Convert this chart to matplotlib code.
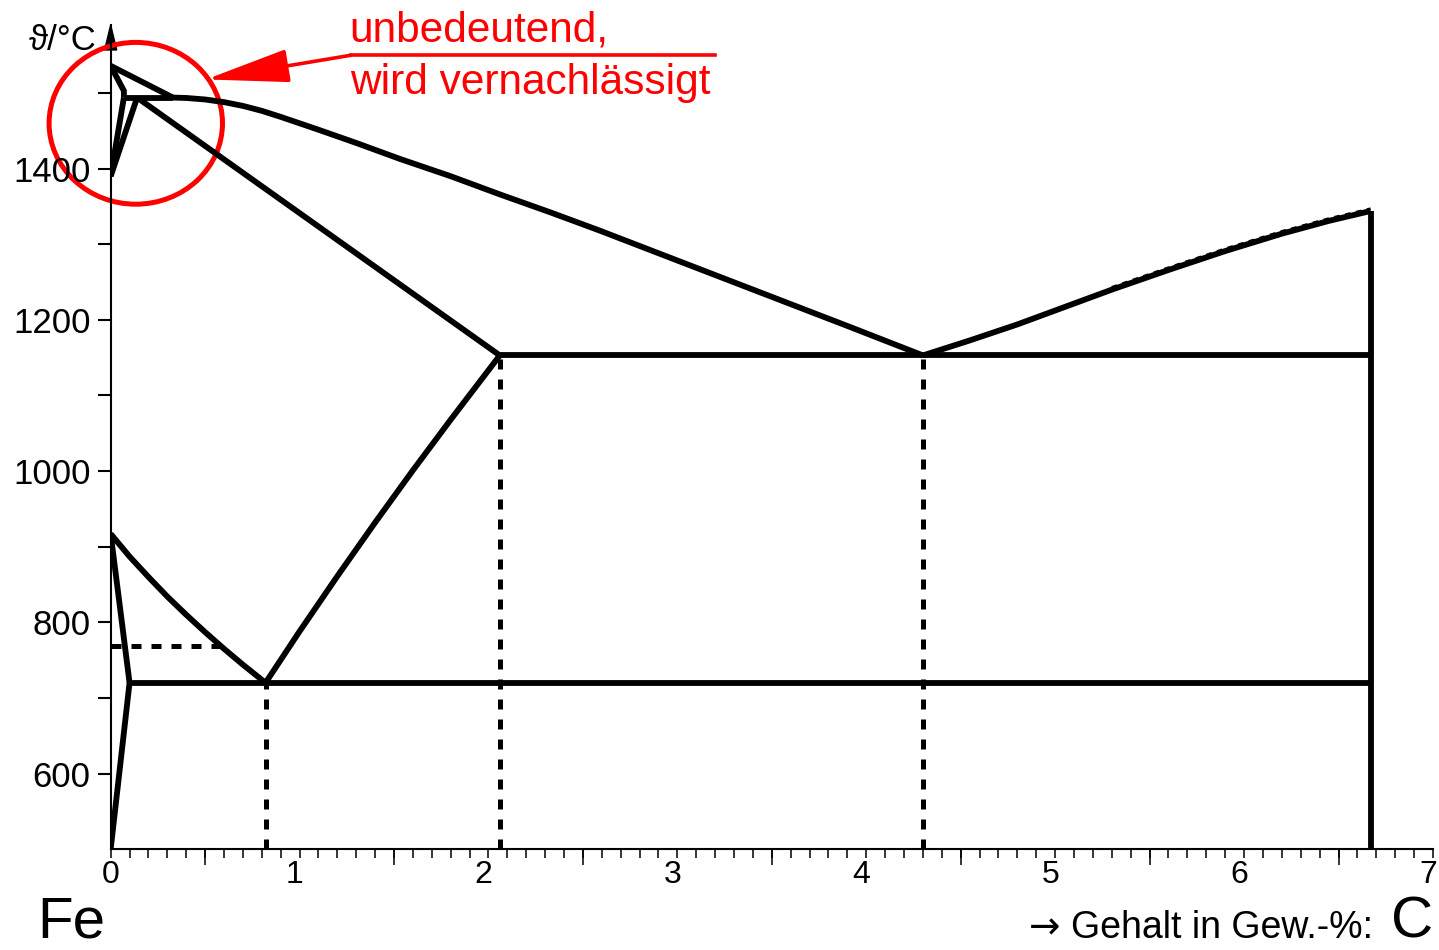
import matplotlib
matplotlib.use("Agg")
import matplotlib.pyplot as plt
from matplotlib.patches import Ellipse, Polygon
from matplotlib.transforms import ScaledTranslation
import numpy as np

plt.rcParams['font.family'] = ['Liberation Sans', 'DejaVu Sans']

# Fe-C diagram, x in wt-% C, T in degC
ab_x, ab_T = [0.0, 0.33], [1536, 1494]                  # liquidus A-B
ah_x, ah_T = [0.0, 0.07, 0.07], [1536, 1503, 1494]      # delta solidus A-H
hb_x, hb_T = [0.07, 0.33], [1494, 1494]                 # peritectic H-B
hn_x, hn_T = [0.07, 0.0], [1494, 1390]
jn_x, jn_T = [0.14, 0.0], [1494, 1390]
je_x, je_T = [0.14, 2.06], [1494, 1153]                 # solidus J-E
bc_x = [0.33, 0.4, 0.5, 0.6, 0.7, 0.8, 0.9, 1.0, 1.1, 1.3, 1.53, 1.80, 2.06,
        2.33, 2.59, 2.86, 3.38, 3.91, 4.30]
bc_T = [1494, 1493.5, 1491.5, 1488, 1483, 1476.5, 1468.5, 1460, 1451.5, 1434, 1413,
        1390, 1366, 1342, 1318, 1292, 1242, 1191, 1153]
cd_x = [4.30, 4.55, 4.8, 5.05, 5.3, 5.6, 5.9, 6.2, 6.45, 6.67]
cd_T = [1153, 1173, 1194, 1217, 1240, 1266, 1291, 1314, 1331, 1344]
ecf_x, ecf_T = [2.06, 6.67], [1153, 1153]               # eutectic
psk_x, psk_T = [0.10, 6.67], [720, 720]                 # eutectoid
gs_x = [0.0, 0.1, 0.2, 0.3, 0.4, 0.5, 0.6, 0.7, 0.82]
gs_T = [917, 887, 860, 834, 810, 787, 765, 744, 720]
es_x = [0.82, 1.0, 1.2, 1.4, 1.6, 1.8, 2.06]
es_T = [720, 788, 861, 932, 1001, 1068, 1153]
gp_x, gp_T = [0.0, 0.10], [917, 720]
pq_x, pq_T = [0.10, 0.0], [720, 500]
fe3c_x, fe3c_T = [6.67, 6.67], [500, 1344]
curie_x, curie_T = [0.0, 0.58], [769, 769]
drop_x = [0.82, 2.06, 4.30]
drop_T = [720, 1153, 1153]

T_MIN, T_MAX = 500, 1590

fig = plt.figure(figsize=(14.39, 9.5), dpi=100)
ax = fig.add_axes([0.0769, 0.10616, 0.9189, 0.86752])
ax.set_xlim(0, 7)
ax.set_ylim(T_MIN, T_MAX)

lw = 4.2
solid = dict(color='black', lw=lw, solid_capstyle='butt', solid_joinstyle='miter')
for xs, ts in [(ab_x, ab_T), (ah_x, ah_T), (hb_x, hb_T), (hn_x, hn_T), (jn_x, jn_T),
               (je_x, je_T), (bc_x, bc_T), (cd_x, cd_T), (ecf_x, ecf_T), (psk_x, psk_T),
               (gs_x, gs_T), (es_x, es_T), (gp_x, gp_T), (pq_x, pq_T), (fe3c_x, fe3c_T)]:
    ax.plot(xs, ts, **solid)

# faint dashed overlay on upper part of liquidus C-D
ax.plot(cd_x[4:], np.array(cd_T[4:]) + 3, color='black', lw=2, ls=(0, (2, 2)))

dashed = dict(color='black', lw=3.6, ls=(0, (2, 2)), dash_capstyle='butt')
for x, t in zip(drop_x, drop_T):
    ax.plot([x, x], [T_MIN, t], **dashed)
ax.plot(curie_x, curie_T, **dashed)

# axes styling
for s in ['top', 'right']:
    ax.spines[s].set_visible(False)
ax.spines['left'].set_linewidth(1.5)
ax.spines['bottom'].set_linewidth(1.5)

ax.set_xticks(range(0, 8))
ax.set_xticks(np.arange(0, 7.01, 0.1), minor=True)
ax.tick_params(axis='x', which='both', length=6.5, width=1.1, pad=1, labelsize=23)
sec = ax.secondary_xaxis('bottom')
sec.set_xticks(np.arange(0.5, 7, 1))
sec.tick_params(length=11.5, width=1.1, labelbottom=False)
sec.spines['bottom'].set_visible(False)
for lab in ax.get_xticklabels()[1:]:
    lab.set_transform(lab.get_transform() + ScaledTranslation(-5 / 100, 0, fig.dpi_scale_trans))

ax.set_yticks(range(600, 1401, 200))
ax.set_yticks(range(700, 1501, 200), minor=True)
ax.tick_params(axis='y', which='both', length=9.4, width=1.5, pad=5, labelsize=25)

# arrow head on the temperature axis
ax.add_patch(Polygon([(-0.032, T_MAX - 33), (0.032, T_MAX - 33), (0, T_MAX)],
                     closed=True, color='black', clip_on=False))

fig.text(97 / 1439, 1 - 50 / 950, 'ϑ/°C', ha='right', va='baseline', fontsize=25)
fig.text(37 / 1439, 1 - 937 / 950, 'Fe', ha='left', va='baseline', fontsize=42)
fig.text(1433 / 1439, 1 - 937 / 950, 'C', ha='right', va='baseline', fontsize=42)
fig.text(1373 / 1439, 1 - 938 / 950, 'Gehalt in Gew.-%:', ha='right', va='baseline', fontsize=27)
fig.text(1060 / 1439, 1 - 938 / 950, '→', ha='right', va='baseline', fontsize=27,
         family=['DejaVu Sans'])

# red note
red = '#ff0000'
ax.add_patch(Ellipse((0.133, 1460), 0.918, 214, fill=False, ec=red, lw=3.6, clip_on=False))
ax.annotate('', xy=(0.505, 1518), xytext=(1.272, 1550),
            arrowprops=dict(arrowstyle='-|>,head_length=2.6,head_width=0.52',
                            color=red, lw=2.6, shrinkA=0, shrinkB=0, mutation_scale=20))
ax.plot([1.272, 3.199], [1550, 1550], color=red, lw=2.6, clip_on=False)
ax.text(1.265, 1568, 'unbedeutend,', color=red, fontsize=30.5, ha='left', va='baseline')
ax.text(1.265, 1499, 'wird vernachlässigt', color=red, fontsize=30.5, ha='left', va='baseline')

fig.savefig('out.png', dpi=100)
